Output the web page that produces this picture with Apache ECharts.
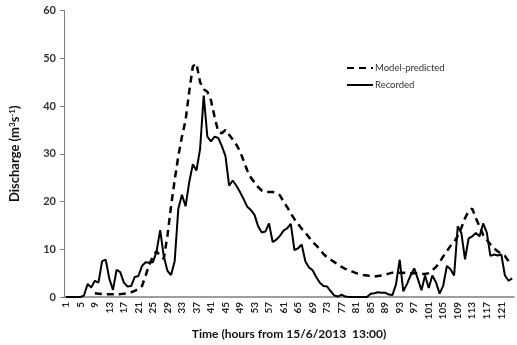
<!DOCTYPE html>
<html>
<head>
<meta charset="utf-8">
<script src="https://cdn.jsdelivr.net/npm/echarts@6/dist/echarts.min.js"></script>
<style>html,body{margin:0;padding:0;background:#fff}#c{width:517px;height:345px}</style>
</head>
<body>
<div id="c"></div>
<script>
var categories = [];
for (var h = 1; h <= 124; h++) categories.push(String(h));

var modelPredicted = [
  null,null,null,null,null,null,null,null,0.8,0.7,
  0.6,0.6,0.6,0.6,0.6,0.6,0.7,0.8,1.0,1.3,
  1.7,2.3,4.5,6.8,8.5,9.6,8.6,8.0,12.8,19.0,
  24.5,29.5,33.6,37.0,43.0,48.3,48.9,45.0,43.5,43.0,
  41.2,37.7,34.6,34.3,35.0,34.0,33.0,31.9,30.5,28.5,
  26.5,25.0,24.0,23.0,22.3,22.0,22.0,22.0,21.8,21.3,
  20.0,18.8,17.5,16.3,15.3,14.3,13.5,12.5,11.5,10.8,
  10.0,9.0,8.3,7.8,7.3,6.8,6.3,5.9,5.6,5.3,
  5.0,4.8,4.6,4.5,4.4,4.3,4.4,4.5,4.7,4.9,
  5.1,5.1,5.1,5.1,5.0,5.0,5.0,4.9,4.8,4.8,
  5.0,5.6,6.3,7.3,8.5,9.6,10.7,11.5,12.8,14.5,
  16.5,18.0,18.5,16.5,14.8,13.0,12.0,11.0,10.2,9.6,
  9.0,8.6,7.5,6.9
];

var recorded = [
  0,0,0,0,0,0.3,2.7,2.0,3.4,3.0,
  7.5,7.8,3.8,1.5,5.7,5.2,3.0,2.2,2.3,4.2,
  4.4,6.5,7.3,7.2,7.3,9.5,14.0,8.5,5.5,4.6,
  7.5,18.5,21.4,19.0,24.0,27.8,26.5,31.0,42.2,33.6,
  32.6,33.6,33.3,31.6,29.5,23.3,24.4,23.3,22.0,20.5,
  18.9,18.2,17.2,14.8,13.5,13.7,15.4,11.5,12.0,12.8,
  13.9,14.4,15.3,9.8,10.2,11.0,7.5,6.2,5.6,4.2,
  3.0,2.3,2.2,1.2,0.3,0.1,0.5,0.1,0,0,
  0,0,0,0,0.7,0.8,1.0,0.9,0.9,0.5,
  0.4,2.7,7.8,1.2,2.7,4.5,6.0,3.8,1.4,4.5,
  1.9,4.5,3.1,0.7,2.4,6.5,5.8,4.5,14.8,13.4,
  7.9,12.3,12.7,13.4,12.7,15.4,13.5,8.6,8.9,8.7,
  8.9,4.5,3.4,3.9
];

var yTicks = [0, 10, 20, 30, 40, 50, 60];

var chart = echarts.init(document.getElementById('c'), null, {renderer: 'canvas'});
var font = 'Lato, "Liberation Sans", sans-serif';
chart.setOption({
  animation: false,
  backgroundColor: '#ffffff',
  textStyle: {fontFamily: font},
  grid: {left: 63, right: 3, top: 10.5, bottom: 43.5, containLabel: false},
  legend: {
    orient: 'vertical',
    left: 341,
    top: 58,
    itemWidth: 26,
    itemHeight: 10,
    itemGap: 7,
    itemStyle: {opacity: 0},
    textStyle: {fontFamily: font, fontSize: 9.5, color: '#333', padding: [0,0,0,-3]},
    data: ['Model-predicted', 'Recorded']
  },
  xAxis: {
    type: 'category',
    data: categories,
    boundaryGap: true,
    name: 'Time (hours from 15/6/2013  13:00)',
    nameLocation: 'middle',
    nameGap: 31,
    nameTextStyle: {fontFamily: font, fontSize: 12, fontWeight: 'bold', color: '#111'},
    axisLine: {lineStyle: {color: '#7f7f7f', width: 1.5}},
    axisTick: {show: false},
    axisLabel: {interval: 3, rotate: 90, margin: 5, fontSize: 10, fontWeight: 'bold', color: '#222', fontFamily: font},
    splitLine: {show: false}
  },
  yAxis: {
    type: 'value',
    min: yTicks[0],
    max: yTicks[yTicks.length - 1],
    interval: 10,
    name: 'Discharge (m{sup|3}s{sup|-1})',
    nameLocation: 'middle',
    nameGap: 42,
    nameTextStyle: {
      fontFamily: font, fontSize: 13, fontWeight: 'bold', color: '#111',
      rich: {sup: {fontFamily: font, fontSize: 8, fontWeight: 'bold', color: '#111', verticalAlign: 'top', padding: [0,0,6,0]}}
    },
    axisLine: {show: true, lineStyle: {color: '#7f7f7f', width: 1}},
    axisTick: {show: true, length: 4, lineStyle: {color: '#7f7f7f'}},
    axisLabel: {fontSize: 11, fontWeight: 'bold', color: '#333', margin: 8, fontFamily: font},
    splitLine: {show: false}
  },
  series: [
    {
      name: 'Model-predicted',
      type: 'line',
      data: modelPredicted,
      symbol: 'none',
      smooth: false,
      connectNulls: false,
      lineStyle: {color: '#000', width: 2.5, type: [7, 5]},
      itemStyle: {color: '#000'},
      z: 2
    },
    {
      name: 'Recorded',
      type: 'line',
      data: recorded,
      symbol: 'none',
      smooth: false,
      lineStyle: {color: '#000', width: 2},
      itemStyle: {color: '#000'},
      z: 3
    }
  ]
});
</script>
</body>
</html>
